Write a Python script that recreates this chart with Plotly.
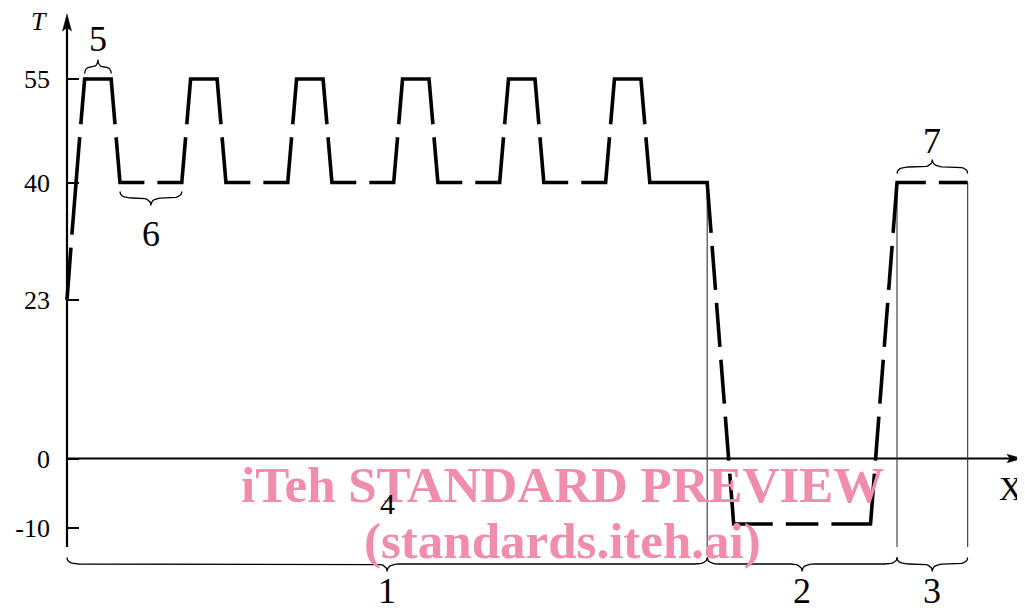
import plotly.graph_objects as go

# ---------------- data ----------------
# Temperature profile: x = position along the test (arbitrary units), T = temperature
X_PTS = [0, 1, 2, 5, 6, 13, 14, 17, 18, 25, 26, 29, 30, 37, 38, 41, 42, 49,
         50, 53, 54, 61, 62, 65, 66, 72.5, 75.5, 91, 94, 102]
T_PTS = [23, 40, 55, 55, 40, 40, 55, 55, 40, 40, 55, 55, 40, 40, 55, 55, 40, 40,
         55, 55, 40, 40, 55, 55, 40, 40, -9.5, -9.5, 40, 40]

Y_TICKS = [55, 40, 23, 0, -10]
Y_TICK_TEXT = ["55", "40", "23", "0", "-10"]

STAGE_EDGES = [0, 72.5, 94, 102]          # stages 1, 2, 3 (bottom braces)
STAGE_LABELS = ["1", "2", "3"]
HOT_DWELL = (2, 5)                          # brace "5"
WARM_DWELL = (6, 13)                        # brace "6"
FINAL_DWELL = (94, 102)                     # brace "7"

# ---------------- geometry / style ----------------
# the page body has an 8px margin, so the figure is shifted by OFF in the window
OFF = 8
WIN_W, WIN_H = 1025, 610
W, H = WIN_W - OFF, WIN_H - OFF
X0_PX, PX_PER_X = 67.0, 8.83      # window pixels
T0_PX, PX_PER_T = 458.5, 6.9
FONT = "Liberation Serif"


def to_px(x, t):
    return X0_PX + x * PX_PER_X, T0_PX - t * PX_PER_T


def to_data(px, py):
    return (px - X0_PX) / PX_PER_X, (T0_PX - py) / PX_PER_T


X_RANGE = [to_data(OFF, 0)[0], to_data(WIN_W, 0)[0]]
Y_RANGE = [to_data(0, WIN_H)[1], to_data(0, OFF)[1]]

# ---------- dashed profile: gaps spread evenly inside each segment ----------
DASH_PERIOD = 60.0
GAP = 13.0
pts = [to_px(x, t) for x, t in zip(X_PTS, T_PTS)]
cum = [0.0]
for i in range(len(pts) - 1):
    dx = pts[i + 1][0] - pts[i][0]
    dy = pts[i + 1][1] - pts[i][1]
    cum.append(cum[-1] + (dx * dx + dy * dy) ** 0.5)
gaps = []
for i in range(len(pts) - 1):
    L = cum[i + 1] - cum[i]
    n = int(L // DASH_PERIOD)
    for j in range(n):
        c = cum[i] + L * (j + 1) / (n + 1)
        gaps.append((c - GAP / 2, c + GAP / 2))
on = []
start = 0.0
for a, b in gaps:
    on.append((start, a))
    start = b
on.append((start, cum[-1]))


def point_at(s):
    for i in range(len(pts) - 1):
        if cum[i] <= s <= cum[i + 1]:
            f = 0 if cum[i + 1] == cum[i] else (s - cum[i]) / (cum[i + 1] - cum[i])
            return (pts[i][0] + f * (pts[i + 1][0] - pts[i][0]),
                    pts[i][1] + f * (pts[i + 1][1] - pts[i][1]))
    return pts[-1]


cx, cy = [], []
for a, b in on:
    seq = [point_at(a)] + [pts[k] for k in range(len(pts)) if a < cum[k] < b] + [point_at(b)]
    for p in seq:
        d = to_data(*p)
        cx.append(d[0])
        cy.append(d[1])
    cx.append(None)
    cy.append(None)

fig = go.Figure()

# ---------------- axes (drawn) ----------------
Y_AXIS_TOP_PX, AXIS_BOTTOM_PX = 14, 547
X_AXIS_END_PX = 1022
y_bot = to_data(0, AXIS_BOTTOM_PX)[1]

fig.add_trace(go.Scatter(x=[0, 0], y=[y_bot, to_data(0, Y_AXIS_TOP_PX + 10)[1]], mode="lines",
                         line=dict(color="black", width=2.2), hoverinfo="skip", showlegend=False))
fig.add_trace(go.Scatter(x=[0, to_data(X_AXIS_END_PX - 10, 0)[0]], y=[0, 0], mode="lines",
                         line=dict(color="black", width=2.2), hoverinfo="skip", showlegend=False))


def arrow_head(tip_px, direction, length, half):
    tx, ty = tip_px
    if direction == "up":
        poly = [(tx, ty), (tx - half, ty + length), (tx, ty + length * 0.8), (tx + half, ty + length)]
    else:
        poly = [(tx, ty), (tx - length, ty - half), (tx - length * 0.8, ty), (tx - length, ty + half)]
    poly.append(poly[0])
    d = [to_data(*p) for p in poly]
    return [p[0] for p in d], [p[1] for p in d]


for tip, dirn, ln, hw in [((X0_PX, Y_AXIS_TOP_PX), "up", 17, 4.5),
                          ((X_AXIS_END_PX, T0_PX), "right", 15, 4.2)]:
    ax_, ay_ = arrow_head(tip, dirn, ln, hw)
    fig.add_trace(go.Scatter(x=ax_, y=ay_, mode="lines", fill="toself", fillcolor="black",
                             line=dict(color="black", width=0.5), hoverinfo="skip", showlegend=False))

# thin vertical stage separators
for xe in STAGE_EDGES[1:]:
    fig.add_trace(go.Scatter(x=[xe, xe], y=[40, y_bot], mode="lines",
                             line=dict(color="#333333", width=1.1), hoverinfo="skip", showlegend=False))

# ---------------- profile ----------------
fig.add_trace(go.Scatter(x=cx, y=cy, mode="lines", line=dict(color="black", width=3.6),
                         connectgaps=False, hoverinfo="skip", showlegend=False))


# ---------------- braces ----------------
def brace(xa, xb, y_line_px, tip_dir, h_end=6.5, h_tip=7.5):
    pa = to_px(xa, 0)[0]
    pb = to_px(xb, 0)[0]
    pm = (pa + pb) / 2
    q = min(12.0, (pb - pa) / 4)
    y = y_line_px
    d = tip_dir  # +1 tip downward (px), -1 tip upward

    def quad(p0, c, p1, n=10):
        return [((1 - t) ** 2 * p0[0] + 2 * (1 - t) * t * c[0] + t ** 2 * p1[0],
                 (1 - t) ** 2 * p0[1] + 2 * (1 - t) * t * c[1] + t ** 2 * p1[1])
                for t in [k / n for k in range(n + 1)]]

    path = []
    path += quad((pa, y - d * h_end), (pa, y), (pa + q, y))
    path += quad((pm - q, y), (pm, y), (pm, y + d * h_tip))
    path += quad((pm, y + d * h_tip), (pm, y), (pm + q, y))
    path += quad((pb - q, y), (pb, y), (pb, y - d * h_end))
    dd = [to_data(*p) for p in path]
    return [p[0] for p in dd], [p[1] for p in dd]


brace_specs = []
for i in range(len(STAGE_LABELS)):
    brace_specs.append((STAGE_EDGES[i], STAGE_EDGES[i + 1], 564, 1))
brace_specs.append((HOT_DWELL[0], HOT_DWELL[1], 67, -1))
brace_specs.append((WARM_DWELL[0], WARM_DWELL[1], 198, 1))
brace_specs.append((FINAL_DWELL[0], FINAL_DWELL[1], 167, -1))
for xa, xb, yl, dr in brace_specs:
    bx, by = brace(xa, xb, yl, dr)
    fig.add_trace(go.Scatter(x=bx, y=by, mode="lines", line=dict(color="black", width=1.3),
                             hoverinfo="skip", showlegend=False))

# ---------------- annotations ----------------
ann = []


def label(text, x, py, size, italic=False, xanchor="center"):
    t = f"<i>{text}</i>" if italic else text
    ann.append(dict(x=x, y=to_data(0, py)[1], text=t, showarrow=False, xanchor=xanchor,
                    yanchor="middle", font=dict(family=FONT, size=size, color="black")))


for i, s in enumerate(STAGE_LABELS):
    label(s, (STAGE_EDGES[i] + STAGE_EDGES[i + 1]) / 2, 591, 36)
label("5", sum(HOT_DWELL) / 2, 39, 36)
label("6", sum(WARM_DWELL) / 2, 234, 36)
label("7", sum(FINAL_DWELL) / 2, 141, 36)
label("T", to_data(39, 0)[0], 21, 26, italic=True)
label("X", to_data(1025, 0)[0], 489, 33, xanchor="right")

# watermark
WM = "#ef8dab"
ann.append(dict(x=to_data(562, 0)[0], y=to_data(0, 485)[1], text="<b>iTeh STANDARD PREVIEW</b>",
                showarrow=False, xanchor="center", yanchor="middle",
                font=dict(family=FONT, size=51, color=WM)))
ann.append(dict(x=to_data(562, 0)[0], y=to_data(0, 541)[1], text="<b>(standards.iteh.ai)</b>",
                showarrow=False, xanchor="center", yanchor="middle",
                font=dict(family=FONT, size=51, color=WM)))
label("4", (STAGE_EDGES[0] + STAGE_EDGES[1]) / 2, 503, 30)

fig.update_layout(
    width=W, height=H,
    margin=dict(l=0, r=0, t=0, b=0),
    paper_bgcolor="white", plot_bgcolor="white",
    showlegend=False,
    annotations=ann,
    xaxis=dict(range=X_RANGE, visible=False, fixedrange=True),
    yaxis=dict(range=Y_RANGE, anchor="free", position=(X0_PX - OFF) / W,
               tickvals=Y_TICKS, ticktext=Y_TICK_TEXT,
               ticks="inside", ticklen=11, tickwidth=1.5, tickcolor="black",
               showline=False, showgrid=False, zeroline=False,
               ticklabelstandoff=17,
               tickfont=dict(family=FONT, size=26, color="black"), fixedrange=True),
)

fig.write_html("out.html")
